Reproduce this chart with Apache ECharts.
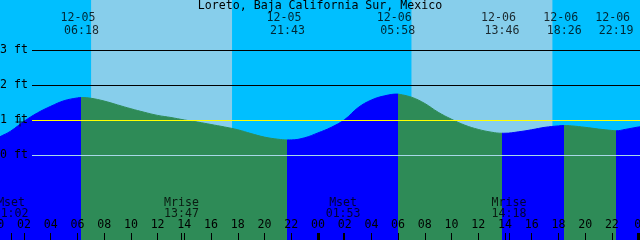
<!DOCTYPE html>
<html><head><meta charset="utf-8">
<script src="https://cdn.jsdelivr.net/npm/echarts@6/dist/echarts.min.js"></script>
<style>html,body{margin:0;padding:0;background:#00BFFF}#c{width:640px;height:240px}</style>
</head><body><div id="c"></div>
<script>
var titleText = 'Loreto, Baja California Sur, Mexico';
// tide curve (hours from 12-05 00:00, feet)
var tideHours = [0, 0.2, 1, 2, 3, 4, 5, 6, 6.3, 7, 8, 9, 10, 11, 12, 13, 14, 15, 16, 17, 18, 19, 20, 21, 21.72, 22, 23, 24, 25, 26, 27, 28, 29, 29.97, 30, 31, 32, 33, 34, 35, 36, 37, 37.77, 38, 39, 40, 41, 42, 42.43, 43, 44, 45, 46, 46.32, 47, 48, 48.2];
var tideFeet  = [0.48, 0.53, 0.69, 0.97, 1.21, 1.40, 1.56, 1.64, 1.65, 1.63, 1.55, 1.44, 1.33, 1.23, 1.14, 1.08, 1.01, 0.95, 0.88, 0.81, 0.73, 0.62, 0.52, 0.46, 0.44, 0.44, 0.50, 0.64, 0.80, 1.02, 1.36, 1.58, 1.70, 1.75, 1.75, 1.66, 1.48, 1.23, 1.03, 0.86, 0.74, 0.66, 0.63, 0.63, 0.67, 0.73, 0.80, 0.84, 0.85, 0.84, 0.80, 0.75, 0.71, 0.70, 0.74, 0.81, 0.82];
// tide extremes
var eventDates = ['12-05', '12-05', '12-06', '12-06', '12-06', '12-06'];
var eventTimes = ['06:18', '21:43', '05:58', '13:46', '18:26', '22:19'];
var eventHours = [6.3, 21.72, 29.97, 37.77, 42.43, 46.32];
var eventKinds = ['high', 'low', 'high', 'low', 'high', 'low'];
// daylight (sunrise, sunset) in hours
var dayStart = [7.02, 31.0];
var dayEnd   = [17.57, 41.55];
// moon events
var moonNames = ['Mset', 'Mrise', 'Mset', 'Mrise'];
var moonTimes = ['01:02', '13:47', '01:53', '14:18'];
var moonHours = [1.033, 13.783, 25.883, 38.3];
// height reference lines
var levelFeet = [3, 2, 1, 0];
var levelLabels = ['3 ft', '2 ft', '1 ft', '0 ft'];
var levelColors = ['#000000', '#000000', '#FFFF00', '#A8D8E8'];
// current time marker
var nowHour = 1.70, nowFeet = 0.95;

var FONT = 'DejaVu Sans Mono';
var FS = 11.6;
var RISE = '#0000FF', FALL = '#2E8B57';

var curve = tideHours.map(function (h, i) { return [h, tideFeet[i]]; });

var pieces = [];
var prev = null;
for (var i = 0; i < eventHours.length; i++) {
  var p = { color: eventKinds[i] === 'high' ? RISE : FALL, lt: eventHours[i] };
  if (prev !== null) p.gte = prev;
  pieces.push(p);
  prev = eventHours[i];
}
pieces.push({ gte: prev, color: eventKinds[eventKinds.length - 1] === 'low' ? RISE : FALL });

var dayAreas = dayStart.map(function (s, i) {
  return [{ xAxis: s, itemStyle: { color: '#87CEEB', opacity: 1 } }, { xAxis: dayEnd[i] }];
});

var levelLines = levelFeet.map(function (f, i) {
  return [{
    x: 32, yAxis: f,
    lineStyle: { color: levelColors[i], width: 1, type: 'solid', opacity: 1 },
    label: { show: true, position: 'start', distance: 4, formatter: levelLabels[i], color: '#000', fontFamily: FONT, fontSize: FS }
  }, { x: 640, yAxis: f }];
});

var LABEL_TOP_Y = 3.74;
var MOON_Y = -1.52;

var chart = echarts.init(document.getElementById('c'), null, { renderer: 'canvas' });
var baseX = { type: 'value', min: 0, max: 48.2, position: 'bottom', z: 10, splitLine: { show: false }, axisLine: { show: false, onZero: false } };
chart.setOption({
  animation: false,
  backgroundColor: '#00BFFF',
  title: {
    text: titleText, left: 'center', top: 0, padding: 0,
    textStyle: { fontFamily: FONT, fontSize: FS, fontWeight: 'normal', color: '#000' }
  },
  grid: { left: -2.7, right: -1.25, top: 0, bottom: 0, containLabel: false, outerBoundsMode: 'none' },
  xAxis: [
    Object.assign({}, baseX, {
      interval: 2,
      axisTick: { show: true, inside: true, length: 7, lineStyle: { color: '#000', width: 1 } },
      axisLabel: {
        show: true, inside: true, margin: 9, color: '#000', fontFamily: FONT, fontSize: FS,
        showMinLabel: true, showMaxLabel: true, hideOverlap: false,
        formatter: function (v) { var h = Math.round(v) % 24; return (h < 10 ? '0' : '') + h; }
      }
    }),
    Object.assign({}, baseX, {
      axisTick: { show: true, inside: true, length: 7, customValues: [24, 48], lineStyle: { color: '#000', width: 3 } },
      axisLabel: { show: false }
    }),
    Object.assign({}, baseX, {
      axisTick: { show: true, inside: true, length: 7, customValues: moonHours, lineStyle: { color: '#000', width: 1 } },
      axisLabel: { show: false }
    })
  ],
  yAxis: { type: 'value', min: -2.42, max: 4.437, show: false, splitLine: { show: false }, axisLine: { onZero: false } },
  visualMap: { show: false, type: 'piecewise', dimension: 0, seriesIndex: 0, pieces: pieces },
  series: [
    {
      type: 'line', data: curve, showSymbol: false, smooth: 0.4,
      lineStyle: { width: 1 },
      areaStyle: { origin: 'start', opacity: 1 },
      markArea: { silent: true, z: 1, label: { show: false }, data: dayAreas },
      markLine: { silent: true, symbol: 'none', z: 5, data: levelLines }
    },
    {
      type: 'scatter', z: 6, symbolSize: 0, silent: true,
      data: eventHours.map(function (h) { return [h, LABEL_TOP_Y]; }),
      label: {
        show: true, position: 'inside', color: '#000', fontFamily: FONT, fontSize: FS, lineHeight: 13, align: 'center',
        formatter: function (p) { return eventDates[p.dataIndex] + ' \n' + eventTimes[p.dataIndex]; }
      }
    },
    {
      type: 'scatter', z: 6, symbolSize: 0, silent: true,
      data: moonHours.map(function (h) { return [h, MOON_Y]; }),
      label: {
        show: true, position: 'inside', color: '#000', fontFamily: FONT, fontSize: FS, lineHeight: 11.5, align: 'center',
        formatter: function (p) { return moonNames[p.dataIndex] + '\n' + moonTimes[p.dataIndex]; }
      }
    },
    {
      type: 'scatter', z: 7, silent: true,
      symbol: 'path://M4,0H5V9H4ZM0,4H9V5H0Z', symbolSize: 9,
      itemStyle: { color: '#000' },
      data: [[nowHour, nowFeet]]
    }
  ]
});
</script>
</body></html>
